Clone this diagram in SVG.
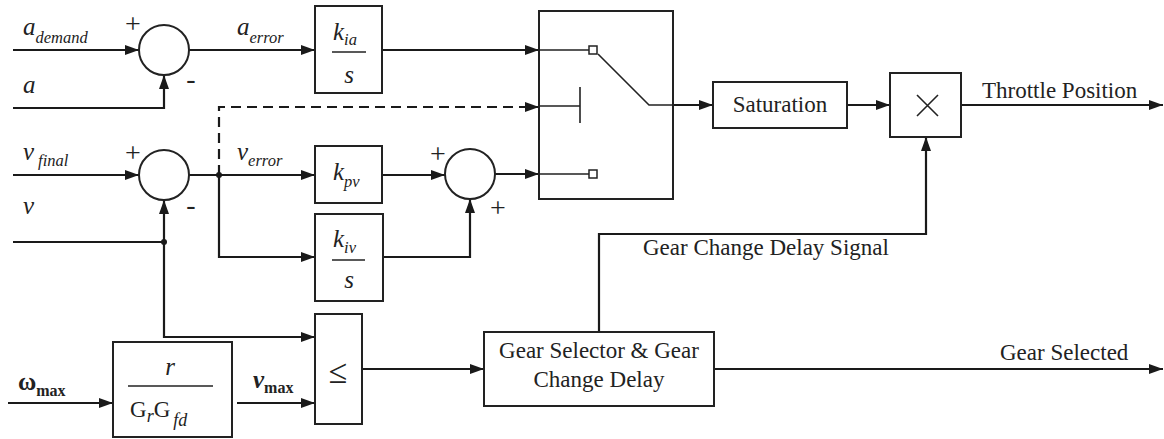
<svg xmlns="http://www.w3.org/2000/svg" width="1164" height="439" viewBox="0 0 1164 439">
<defs>
<marker id="ah" markerUnits="userSpaceOnUse" markerWidth="14" markerHeight="10" refX="14" refY="5" orient="auto">
<path d="M0,0 L14,5 L0,10 z" fill="#1a1a1a"/>
</marker>
<style>
.box{fill:#fff;stroke:#222;stroke-width:2}
.sum{fill:#fff;stroke:#222;stroke-width:2}
.ln{fill:none;stroke:#1a1a1a;stroke-width:2.2}
.thin{fill:none;stroke:#222;stroke-width:1.6}
.dash{stroke-dasharray:10 6}
.t{font-family:"Liberation Serif","Times New Roman",serif;fill:#222;font-size:23px}
.m{font-family:"Liberation Serif","Times New Roman",serif;fill:#222;font-style:italic;font-size:25px}
.s{font-size:16.5px}
.sg{font-family:"Liberation Serif","Times New Roman",serif;fill:#222;font-size:28px;text-anchor:middle}
</style>
</defs>
<rect width="1164" height="439" fill="#fff"/>

<g id="connectors">
<path class="ln" d="M13,50 H139" marker-end="url(#ah)"/>
<path class="ln" d="M13,108 H164 V75" marker-end="url(#ah)"/>
<path class="ln" d="M189,50 H315" marker-end="url(#ah)"/>
<path class="ln" d="M382,50 H539" marker-end="url(#ah)"/>
<path class="ln" d="M13,175 H139" marker-end="url(#ah)"/>
<path class="ln" d="M13,242 H164 V200" marker-end="url(#ah)"/>
<path class="ln" d="M164,242 V337 H315" marker-end="url(#ah)"/>
<path class="ln" d="M189,175 H315" marker-end="url(#ah)"/>
<path class="ln" d="M219,175 V257 H315" marker-end="url(#ah)"/>
<path class="ln dash" d="M219,175 V107 H539" marker-end="url(#ah)"/>
<path class="ln" d="M382,175 H445" marker-end="url(#ah)"/>
<path class="ln" d="M383,257 H470 V199" marker-end="url(#ah)"/>
<path class="ln" d="M495,174 H539" marker-end="url(#ah)"/>
<path class="ln" d="M673,105 H713" marker-end="url(#ah)"/>
<path class="ln" d="M847,105 H890" marker-end="url(#ah)"/>
<path class="ln" d="M961,105 H1163" marker-end="url(#ah)"/>
<path class="ln" d="M599,332 V234 H926 V137" marker-end="url(#ah)"/>
<path class="ln" d="M8,403 H113" marker-end="url(#ah)"/>
<path class="ln" d="M237,403 H315" marker-end="url(#ah)"/>
<path class="ln" d="M362,369 H484" marker-end="url(#ah)"/>
<path class="ln" d="M714,369 H1163" marker-end="url(#ah)"/>
<circle cx="164" cy="242" r="3" fill="#1a1a1a"/>
<circle cx="219" cy="175" r="3" fill="#1a1a1a"/>
</g>

<g id="labels">
<text class="m" x="23" y="35">a<tspan class="s" dy="8">demand</tspan></text>
<text class="m" x="23" y="93">a</text>
<text class="m" x="237" y="35">a<tspan class="s" dy="8">error</tspan></text>
<text class="m" x="23" y="160">v<tspan class="s" dx="4" dy="6">final</tspan></text>
<text class="m" x="23" y="214">v</text>
<text class="m" x="237" y="160">v<tspan class="s" dy="6">error</tspan></text>
<text class="sg" x="133" y="33">+</text>
<text class="sg" x="191" y="88">-</text>
<text class="sg" x="133" y="162">+</text>
<text class="sg" x="191" y="214">-</text>
<text class="sg" x="438" y="163">+</text>
<text class="sg" x="498" y="217">+</text>
<text class="t" x="982" y="98">Throttle Position</text>
<text class="t" x="643" y="255">Gear Change Delay Signal</text>
<text class="t" x="1000" y="360">Gear Selected</text>
<text x="18" y="390" font-family="Liberation Serif,serif" font-weight="bold" font-size="25" fill="#222">ω<tspan font-size="16" dy="6">max</tspan></text>
<text x="253" y="388" font-family="Liberation Serif,serif" font-weight="bold" font-style="italic" font-size="25" fill="#222">v<tspan font-size="16" font-style="normal" dy="5">max</tspan></text>
</g>

<g id="sum1"><circle class="sum" cx="164" cy="50" r="25"/></g>
<g id="sum2"><circle class="sum" cx="164" cy="175" r="25"/></g>
<g id="sum3"><circle class="sum" cx="470" cy="174" r="25"/></g>

<g id="kia">
<rect class="box" x="315" y="6" width="67" height="87"/>
<text class="m" x="333" y="40">k<tspan class="s" dy="5">ia</tspan></text>
<line class="thin" x1="332" y1="52" x2="366" y2="52"/>
<text class="m" x="349" y="83" text-anchor="middle">s</text>
</g>

<g id="kpv">
<rect class="box" x="315" y="146" width="67" height="57"/>
<text class="m" x="333" y="180">k<tspan class="s" dy="7">pv</tspan></text>
</g>

<g id="kiv">
<rect class="box" x="315" y="214" width="68" height="87"/>
<text class="m" x="333" y="247">k<tspan class="s" dy="6">iv</tspan></text>
<line class="thin" x1="332" y1="260" x2="365" y2="260"/>
<text class="m" x="349" y="288" text-anchor="middle">s</text>
</g>

<g id="switch">
<rect class="box" x="539" y="11" width="134" height="188"/>
<path class="thin" d="M539,50 H589 M598,54 L649,105 H673 M539,106 H580 M580,87 V123 M539,174 H589"/>
<rect x="589" y="46" width="8" height="8" fill="#fff" stroke="#222" stroke-width="1.5"/>
<rect x="589" y="170" width="8" height="8" fill="#fff" stroke="#222" stroke-width="1.5"/>
</g>

<g id="saturation">
<rect class="box" x="713" y="82" width="134" height="46"/>
<text class="t" x="780" y="112" text-anchor="middle">Saturation</text>
</g>

<g id="multiply">
<rect class="box" x="890" y="73" width="71" height="64"/>
<path class="thin" d="M917,95 L938,116 M917,116 L938,95"/>
</g>

<g id="gain">
<rect class="box" x="113" y="342" width="119" height="95"/>
<text class="m" x="170" y="375" text-anchor="middle">r</text>
<line class="thin" x1="128" y1="386" x2="213" y2="386"/>
<text class="m" x="130" y="417" style="font-style:normal;font-size:23px">G<tspan style="font-style:italic;font-size:18px" dy="5">r</tspan><tspan dy="-5">G</tspan><tspan style="font-style:italic;font-size:18px" dx="3" dy="9">fd</tspan></text>
</g>

<g id="compare">
<rect class="box" x="315" y="314" width="47" height="110"/>
<text class="t" x="338" y="383" text-anchor="middle" style="font-size:34px">≤</text>
</g>

<g id="gearbox">
<rect class="box" x="484" y="332" width="230" height="74"/>
<text class="t" x="599" y="358" text-anchor="middle">Gear Selector &amp; Gear</text>
<text class="t" x="599" y="387" text-anchor="middle">Change Delay</text>
</g>
</svg>
